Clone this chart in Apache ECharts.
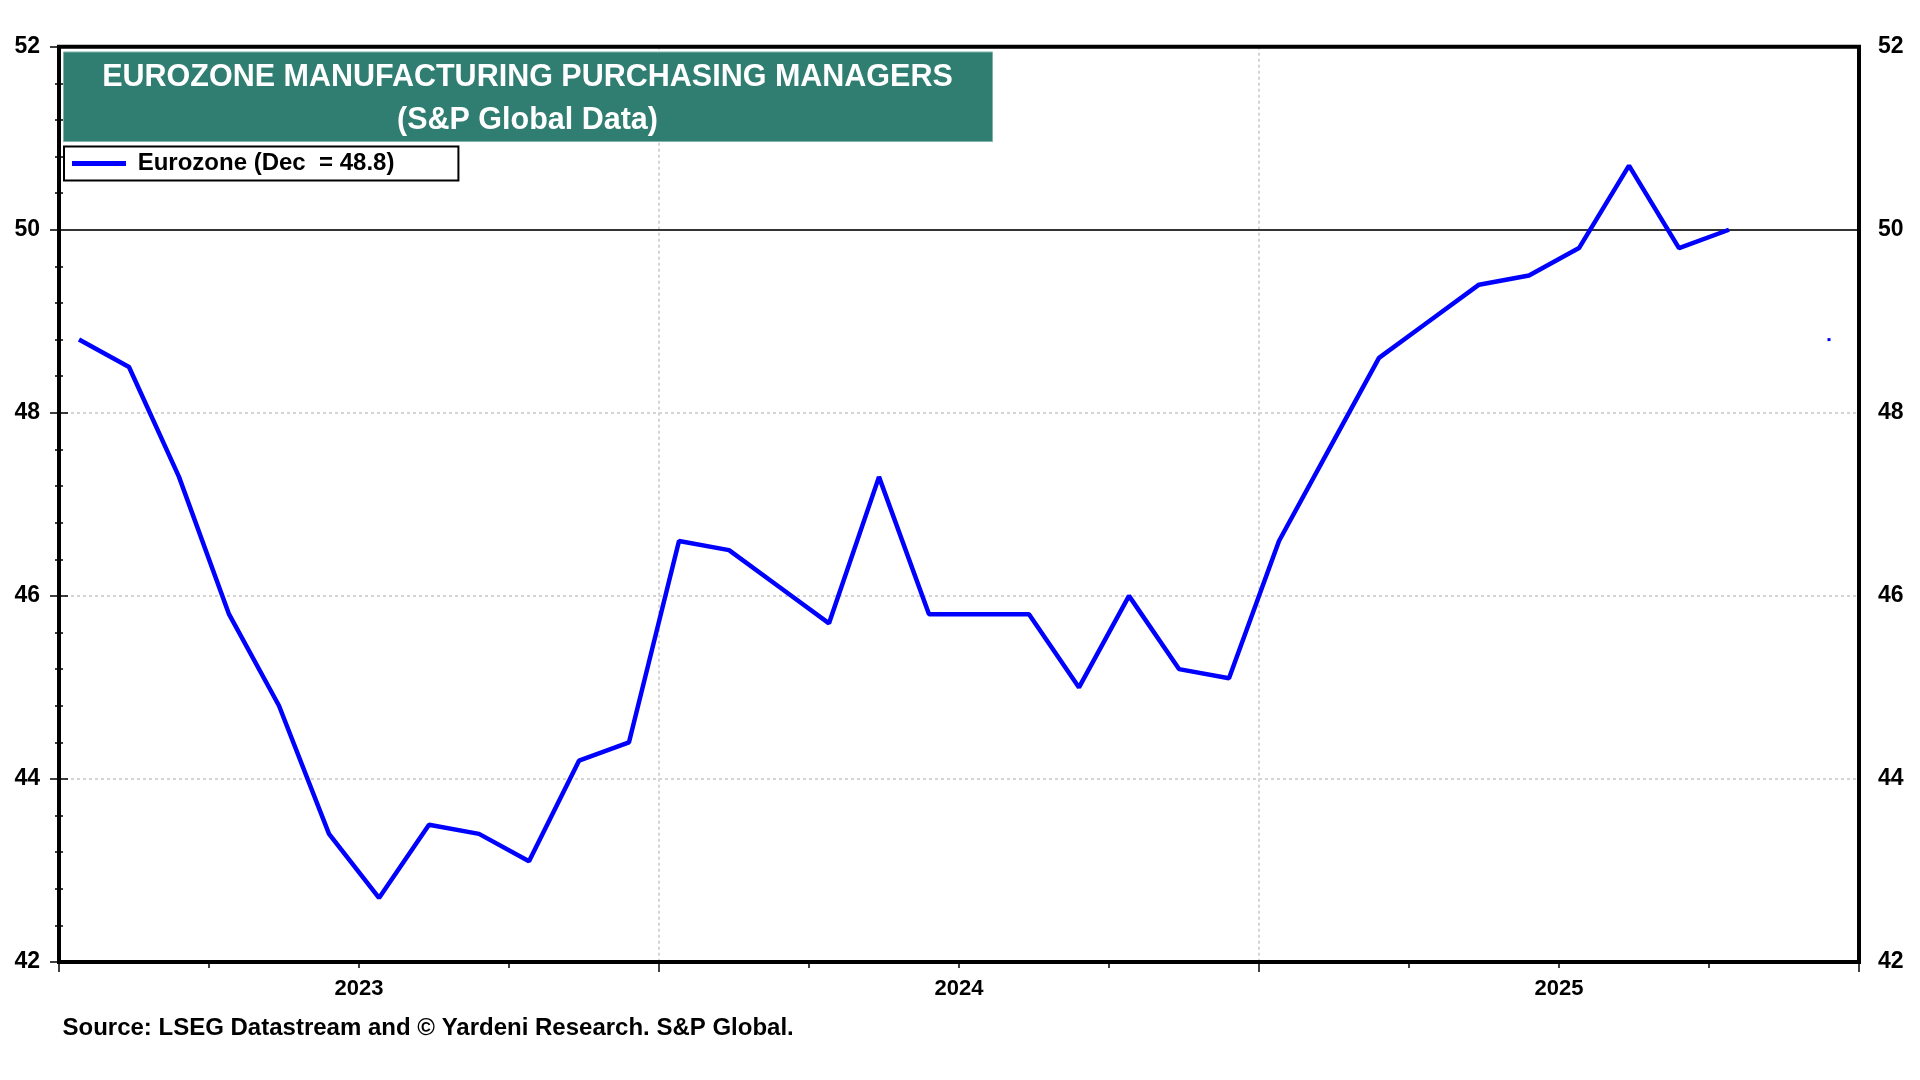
<!DOCTYPE html>
<html>
<head>
<meta charset="utf-8">
<script src="https://cdn.jsdelivr.net/npm/echarts@6/dist/echarts.min.js"></script>
<style>
html,body{margin:0;padding:0;background:#fff;}
#chart{width:1920px;height:1080px;}
</style>
</head>
<body>
<div id="chart"></div>
<script>
// ---- data ----
const months = [
  '2023-01','2023-02','2023-03','2023-04','2023-05','2023-06','2023-07','2023-08','2023-09','2023-10','2023-11','2023-12',
  '2024-01','2024-02','2024-03','2024-04','2024-05','2024-06','2024-07','2024-08','2024-09','2024-10','2024-11','2024-12',
  '2025-01','2025-02','2025-03','2025-04','2025-05','2025-06','2025-07','2025-08','2025-09','2025-10','2025-11','2025-12'
];
const eurozone = [
  48.8, 48.5, 47.3, 45.8, 44.8, 43.4, 42.7, 43.5, 43.4, 43.1, 44.2, 44.4,
  46.6, 46.5, 46.1, 45.7, 47.3, 45.8, 45.8, 45.8, 45.0, 46.0, 45.2, 45.1,
  46.6, 47.6, 48.6, 49.0, 49.4, 49.5, 49.8, 50.7, 49.8, 50.0, null, 48.8
];
const yearLabels = ['2023', '2024', '2025'];
const yTicks = [42, 44, 46, 48, 50, 52];
const titleLines = ['EUROZONE MANUFACTURING PURCHASING MANAGERS', '(S&P Global Data)'];
const legendText = 'Eurozone (Dec  = 48.8)';
const sourceText = 'Source: LSEG Datastream and \u00A9 Yardeni Research. S&P Global.';

// ---- build ----
const FONT = '"Liberation Sans", Arial, Helvetica, sans-serif';
const seriesData = eurozone.map((v, i) => {
  const prev = i > 0 ? eurozone[i - 1] : null;
  const next = i < eurozone.length - 1 ? eurozone[i + 1] : null;
  const isolated = v != null && prev == null && next == null;
  if (isolated) {
    return { value: [i + 0.4, v], symbol: 'rect', symbolSize: 3, itemStyle: { color: '#0000ff' } };
  }
  return { value: [i + 0.4, v], symbol: 'none' };
});

const chart = echarts.init(document.getElementById('chart'), null, { renderer: 'canvas' });

const gridLeft = 59, gridRight = 61, gridTop = 46.7, gridBottom = 118;

const yAxisCommon = {
  type: 'value', min: yTicks[0], max: yTicks[yTicks.length - 1], interval: 2,
  axisLine: { show: false },
  axisTick: { show: true, length: 9, lineStyle: { color: '#000', width: 1.5 } },
  minorTick: { show: true, splitNumber: 5, length: 4, lineStyle: { color: '#000', width: 1.5 } },
  axisLabel: { color: '#000', fontFamily: FONT, fontWeight: 'bold', fontSize: 23, margin: 19,
               showMinLabel: true, showMaxLabel: true },
};

const titleBoxW = 929, titleBoxX = 63;

chart.setOption({
  animation: false,
  backgroundColor: '#fff',
  grid: {
    left: gridLeft, right: gridRight, top: gridTop, bottom: gridBottom,
    show: true, borderColor: '#000', borderWidth: 4, backgroundColor: 'transparent', z: 10
  },
  legend: {
    show: true,
    left: 64, top: 146.5,
    orient: 'horizontal',
    icon: 'rect',
    itemWidth: 54, itemHeight: 5,
    backgroundColor: '#fff',
    borderColor: '#000', borderWidth: 2, borderRadius: 0,
    padding: [5, 64, 5, 8],
    formatter: () => ' ' + legendText,
    textStyle: { color: '#000', fontFamily: FONT, fontWeight: 'bold', fontSize: 24 },
    data: [{ name: 'Eurozone', icon: 'rect' }],
    z: 20
  },
  xAxis: [
    {
      type: 'value', min: 0, max: months.length, interval: 3, position: 'bottom',
      axisLine: { show: false },
      axisTick: { show: true, length: 6, lineStyle: { color: '#000', width: 1.5 } },
      splitLine: { show: false },
      axisLabel: {
        show: true, margin: 16, color: '#000', fontFamily: FONT, fontWeight: 'bold', fontSize: 22,
        showMinLabel: true, showMaxLabel: true,
        formatter: v => (v % 12 === 6 ? yearLabels[(v - 6) / 12] || '' : '')
      }
    },
    {
      type: 'value', min: 0, max: months.length, interval: 12, position: 'bottom',
      axisLine: { show: false },
      axisTick: { show: true, length: 10, lineStyle: { color: '#000', width: 1.5 } },
      axisLabel: { show: false },
      splitLine: { show: true, lineStyle: { color: '#d4d4d4', width: 2, type: [3, 3] } }
    }
  ],
  yAxis: [
    Object.assign({}, yAxisCommon, {
      position: 'left',
      splitLine: { show: true, lineStyle: { color: '#d4d4d4', width: 2, type: [3, 3] } }
    }),
    Object.assign({}, yAxisCommon, {
      position: 'right',
      splitLine: { show: false }
    })
  ],
  graphic: [
    {
      type: 'rect', left: titleBoxX, top: 51.5, z: 30,
      shape: { width: titleBoxW, height: 89.5 },
      style: { fill: '#2F7E71', stroke: '#7fb3a9', lineWidth: 1 }
    },
    {
      type: 'text', x: titleBoxX + titleBoxW / 2, y: 77.5, z: 31,
      style: { text: titleLines[0], fill: '#fff', font: 'bold 30.5px ' + FONT, textAlign: 'center', textVerticalAlign: 'middle' }
    },
    {
      type: 'text', x: titleBoxX + titleBoxW / 2, y: 120.5, z: 31,
      style: { text: titleLines[1], fill: '#fff', font: 'bold 30.5px ' + FONT, textAlign: 'center', textVerticalAlign: 'middle' }
    },
    {
      type: 'text', x: 62.5, y: 1028, z: 31,
      style: { text: sourceText, fill: '#000', font: 'bold 24px ' + FONT, textAlign: 'left', textVerticalAlign: 'middle' }
    }
  ],
  series: [
    {
      name: 'Eurozone',
      type: 'line',
      xAxisIndex: 0, yAxisIndex: 0,
      data: seriesData,
      connectNulls: false,
      showSymbol: true,
      lineStyle: { color: '#0000ff', width: 4.5 },
      itemStyle: { color: '#0000ff' },
      z: 5,
      markLine: {
        silent: true, symbol: 'none', animation: false,
        label: { show: false },
        lineStyle: { color: '#333', width: 1.8, type: 'solid' },
        data: [{ yAxis: 50 }]
      }
    }
  ]
});
</script>
</body>
</html>
